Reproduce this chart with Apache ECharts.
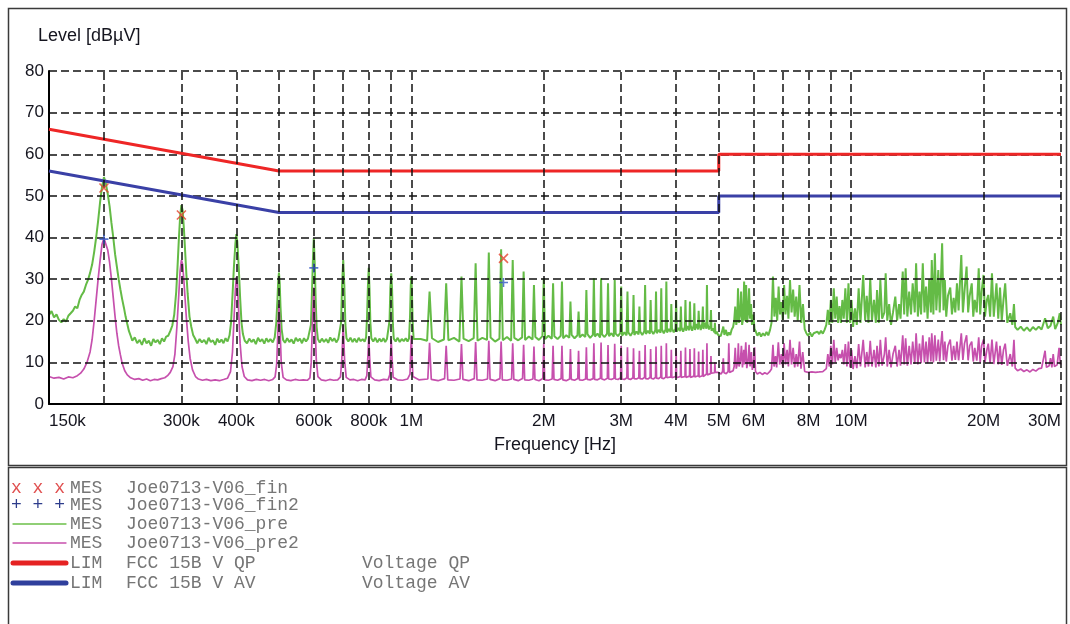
<!DOCTYPE html>
<html>
<head>
<meta charset="utf-8">
<script src="https://cdn.jsdelivr.net/npm/echarts@6/dist/echarts.min.js"></script>
<style>
	html, body { margin: 0; padding: 0; background: #fff; }
	#main { width: 1070px; height: 624px; }
</style>
</head>
<body>
<div id="main"></div>
<script>
// frequency in kHz, level in dBµV

// vertical grid lines and the labelled ones
var gridFreqs = [200, 300, 400, 500, 600, 700, 800, 900, 1000, 2000, 3000, 4000, 5000, 6000, 7000, 8000, 9000, 10000, 20000, 30000];
var tickFreqs = [150, 300, 400, 600, 800, 1000, 2000, 3000, 4000, 5000, 6000, 8000, 10000, 20000, 30000];
var tickText = ["150k", "300k", "400k", "600k", "800k", "1M", "2M", "3M", "4M", "5M", "6M", "8M", "10M", "20M", "30M"];

// limits FCC 15B
var limitQP = [[150, 66], [500, 56], [5000, 56], [5000, 60], [30000, 60]];
var limitAV = [[150, 56], [500, 46], [5000, 46], [5000, 50], [30000, 50]];

// final measurements
var finQP = [[200, 51.9], [300, 45.4], [1620, 35.0]];
var finAV = [[200, 39.6], [600, 32.7], [1620, 29.2]];

// Joe0713-V06_pre (green), 150k - 1M
var preLow = [
	[150, 21.4], [152, 22.3], [154, 20.8], [156, 21.5], [158, 20.2], [160, 19.6], [162, 20.4], [164, 19.8], [166, 21.2], [168, 21.8],
	[170, 22.4], [172, 23.4], [174, 23.0], [176, 25.0], [178, 26.2], [180, 27.0], [182, 28.6], [184, 29.8], [186, 31.5], [188, 33.5],
	[190, 36.5], [192, 40.0], [194, 44.0], [196, 48.5], [198, 52.2], [200, 54.5], [202, 53.0], [204, 50.5], [206, 47.5], [208, 43.5],
	[210, 40.0], [212, 36.0], [214, 33.0], [216, 30.0], [218, 27.5], [220, 25.2], [222, 23.2], [224, 21.0], [226, 19.2], [228, 17.5],
	[230, 16.4], [232, 15.2], [235, 16.0], [238, 14.6], [241, 15.4], [244, 14.2], [247, 15.8], [250, 14.6], [253, 15.2], [256, 14.0],
	[259, 15.6], [262, 14.8], [265, 15.4], [268, 14.4], [271, 15.8], [274, 15.0], [277, 16.2], [280, 16.4], [283, 17.5], [286, 18.8],
	[289, 21.5], [292, 27.0], [294, 33.0], [296, 39.5], [298, 45.0], [300, 47.8], [302, 46.5], [304, 42.0], [306, 36.5], [308, 31.0],
	[310, 26.5], [313, 21.0], [316, 18.5], [319, 16.6], [322, 15.8], [326, 14.6], [330, 15.6], [334, 14.8], [338, 15.4], [342, 14.4],
	[346, 15.9], [350, 14.9], [354, 15.3], [358, 14.2], [362, 15.7], [366, 14.8], [370, 15.5], [374, 14.6], [378, 15.8], [382, 15.0],
	[386, 16.5], [389, 19.5], [392, 26.0], [395, 33.0], [398, 38.5], [400, 40.8], [402, 39.0], [405, 33.0], [408, 25.5], [411, 19.5],
	[414, 16.8], [418, 15.2], [423, 14.6], [428, 15.7], [433, 14.9], [438, 15.5], [443, 14.4], [448, 15.9], [453, 15.0], [458, 15.6],
	[463, 14.5], [468, 15.8], [473, 14.9], [478, 15.6], [484, 14.8], [489, 16.0], [493, 19.5], [496, 25.0], [498, 29.5], [500, 31.6],
	[502, 29.0], [504, 23.5], [507, 18.0], [511, 15.4], [516, 14.7], [522, 15.8], [528, 14.9], [534, 15.5], [540, 14.5], [546, 15.9],
	[552, 15.1], [558, 15.7], [564, 14.6], [570, 15.8], [576, 15.0], [582, 15.7], [587, 15.6], [591, 19.0], [594, 26.0], [597, 34.0],
	[600, 39.8], [603, 33.5], [606, 25.0], [609, 18.5], [613, 15.6], [619, 14.8], [626, 15.7], [633, 14.9], [640, 15.6], [647, 14.7],
	[654, 16.0], [661, 15.1], [668, 15.8], [675, 14.8], [682, 15.6], [688, 15.9], [692, 19.5], [696, 29.0], [700, 34.6], [704, 28.5],
	[708, 19.0], [712, 15.8], [719, 15.0], [727, 15.9], [735, 14.9], [743, 15.7], [751, 14.8], [759, 15.9], [767, 15.1], [775, 15.6],
	[783, 15.0], [789, 16.0], [793, 21.0], [797, 29.0], [800, 32.7], [803, 28.0], [807, 19.5], [811, 15.8], [819, 15.0], [828, 15.9],
	[837, 14.8], [846, 15.7], [855, 15.0], [864, 15.8], [872, 14.9], [880, 15.6], [888, 15.4], [892, 20.0], [896, 28.0], [900, 31.4],
	[904, 27.5], [908, 19.0], [912, 15.7], [921, 15.0], [931, 15.9], [941, 14.9], [951, 15.6], [961, 15.1], [971, 15.8], [980, 15.0],
	[988, 15.8], [993, 21.0], [997, 28.5], [1000, 30.6], [1003, 27.0], [1007, 19.5], [1012, 15.6]
];

// green, 1M - 5M
var preMid = [
	[1050, 15.6],
	[1086, 15.2], [1100, 27.0], [1114, 15.8], [1150, 14.9], [1186, 15.5], [1200, 29.0], [1214, 15.3], [1250, 15.9],
	[1286, 15.0], [1300, 30.6], [1314, 15.7], [1350, 15.1], [1386, 15.8], [1400, 33.8], [1414, 15.2], [1450, 15.9],
	[1486, 15.4], [1500, 36.4], [1514, 16.0], [1550, 15.0], [1586, 15.7], [1600, 37.2], [1614, 15.3], [1650, 16.1],
	[1686, 15.2], [1700, 34.6], [1714, 15.9], [1750, 15.3], [1786, 16.0], [1800, 31.8], [1814, 15.4], [1850, 16.2],
	[1886, 15.5], [1900, 28.6], [1914, 16.1], [1950, 15.4], [1986, 16.3], [2000, 30.2], [2014, 15.6], [2050, 16.4],
	[2086, 15.7], [2100, 29.0], [2114, 16.3], [2150, 15.6], [2186, 16.4], [2200, 29.4], [2214, 15.8], [2250, 16.5],
	[2286, 15.9], [2300, 24.6], [2314, 16.6], [2350, 15.8], [2386, 16.5], [2400, 22.2], [2414, 16.0], [2450, 16.7],
	[2486, 16.1], [2500, 27.4], [2514, 16.8], [2550, 15.9], [2586, 16.6], [2600, 30.2], [2614, 16.2], [2650, 16.9],
	[2686, 16.0], [2700, 30.2], [2714, 16.7], [2750, 16.1], [2786, 16.9], [2800, 29.0], [2814, 16.3], [2850, 17.0],
	[2886, 16.2], [2900, 29.8], [2914, 16.9], [2950, 16.3], [2986, 17.1], [3000, 28.2], [3014, 16.4], [3050, 17.2],
	[3086, 16.5], [3100, 27.0], [3114, 17.2], [3150, 16.4], [3186, 17.3], [3200, 26.2], [3214, 16.6], [3250, 17.4],
	[3286, 16.7], [3300, 23.4], [3314, 17.4], [3350, 16.6], [3386, 17.5], [3400, 28.6], [3414, 16.8], [3450, 17.6],
	[3486, 16.9], [3500, 25.0], [3514, 17.6], [3550, 16.8], [3586, 17.7], [3600, 27.0], [3614, 17.0], [3650, 17.8],
	[3686, 17.1], [3700, 27.8], [3714, 17.9], [3750, 17.0], [3786, 17.9], [3800, 29.4], [3814, 17.2], [3850, 18.0],
	[3886, 17.3], [3900, 24.0], [3914, 18.1], [3950, 17.2], [3986, 18.1], [4000, 25.0], [4014, 17.4], [4050, 18.3],
	[4086, 17.5], [4100, 23.4], [4114, 18.4], [4150, 17.4], [4186, 18.5], [4200, 25.0], [4214, 17.6], [4250, 18.7],
	[4286, 17.7], [4300, 24.6], [4314, 18.9], [4350, 17.6], [4386, 19.0], [4400, 24.2], [4414, 17.8], [4450, 19.2],
	[4486, 17.9], [4500, 22.4], [4514, 19.3], [4550, 17.8], [4586, 19.4], [4600, 23.4], [4614, 18.0], [4650, 19.5],
	[4686, 18.1], [4700, 28.6], [4714, 19.3], [4750, 17.9], [4786, 18.8], [4800, 22.6], [4814, 17.6], [4850, 18.2],
	[4886, 17.2], [4900, 19.5], [4914, 16.8], [4950, 17.4], [4980, 16.6]
];

// green, 5M - 30M
var preHigh = [
	[5010, 17.0], [5050, 16.3], [5090, 17.5], [5120, 18.6], [5150, 16.6], [5190, 17.8], [5230, 16.4], [5270, 17.2], [5310, 16.6], [5350, 17.9],
	[5390, 18.5], [5420, 20.0], [5450, 23.4], [5480, 19.0], [5510, 21.0], [5530, 27.8], [5555, 19.5], [5590, 21.5], [5620, 27.0], [5650, 19.0],
	[5680, 20.5], [5710, 29.4], [5740, 20.0], [5770, 28.6], [5800, 19.5], [5830, 22.0], [5860, 27.8], [5890, 20.5], [5920, 24.0], [5950, 19.0],
	[5990, 21.5], [6030, 18.0], [6070, 17.4], [6120, 16.4], [6180, 17.2], [6240, 16.2], [6300, 17.0], [6360, 16.4], [6420, 17.3], [6480, 16.5],
	[6540, 17.8], [6590, 19.5], [6640, 30.6], [6690, 21.0], [6740, 25.5], [6790, 20.0], [6840, 28.2], [6890, 21.5], [6940, 24.5], [6990, 20.2],
	[7040, 28.6], [7090, 21.5], [7150, 26.0], [7200, 20.5], [7260, 29.8], [7320, 22.0], [7380, 27.5], [7440, 21.0], [7500, 25.8], [7560, 20.0],
	[7630, 28.6], [7700, 19.5], [7770, 24.0], [7840, 18.0], [7910, 17.0], [7980, 16.4], [8060, 17.2], [8140, 16.2], [8220, 17.0], [8300, 16.6],
	[8380, 17.4], [8460, 16.8], [8540, 17.6], [8620, 16.9], [8700, 17.8], [8780, 19.0], [8850, 22.6], [8920, 19.0], [8990, 25.0], [9060, 19.5],
	[9130, 27.8], [9200, 20.5], [9270, 25.8], [9340, 19.5], [9410, 23.5], [9480, 19.5], [9550, 25.0], [9620, 20.5], [9700, 27.8], [9780, 19.5],
	[9860, 29.0], [9940, 19.5], [10020, 25.0], [10100, 18.5], [10200, 23.0], [10300, 19.0], [10400, 27.8], [10500, 19.5], [10650, 31.0], [10760, 20.0],
	[10850, 26.0], [10950, 19.5], [11050, 30.2], [11150, 20.0], [11270, 25.0], [11380, 19.5], [11450, 27.4], [11560, 19.5], [11650, 29.8], [11760, 20.5],
	[11900, 22.0], [11980, 31.4], [12080, 20.0], [12200, 24.0], [12320, 19.0], [12450, 22.0], [12600, 25.8], [12720, 20.0], [12850, 24.0], [12950, 20.5],
	[13100, 31.8], [13200, 21.5], [13300, 32.6], [13420, 21.0], [13550, 27.0], [13680, 21.5], [13800, 29.0], [13950, 22.0], [14050, 33.8], [14180, 21.0],
	[14300, 27.0], [14420, 21.5], [14550, 33.8], [14680, 22.0], [14800, 28.2], [14920, 20.5], [15050, 30.0], [15180, 22.0], [15250, 34.6], [15380, 21.5],
	[15500, 36.2], [15620, 22.5], [15780, 32.2], [15900, 22.0], [16000, 30.0], [16100, 38.6], [16220, 22.5], [16330, 29.8], [16450, 21.0], [16600, 26.0],
	[16800, 28.0], [16950, 21.5], [17100, 25.5], [17250, 22.0], [17400, 29.0], [17550, 22.5], [17800, 35.8], [17950, 22.0], [18100, 27.0], [18300, 33.0],
	[18450, 22.0], [18600, 26.0], [18800, 29.0], [18950, 21.0], [19100, 25.0], [19300, 22.0], [19500, 32.6], [19650, 21.5], [19800, 27.0], [20000, 31.0],
	[20150, 21.0], [20350, 25.0], [20500, 26.2], [20700, 21.0], [20900, 31.4], [21100, 21.0], [21400, 29.0], [21600, 20.5], [21800, 28.0], [22000, 20.0],
	[22200, 25.0], [22400, 29.0], [22650, 19.5], [23000, 21.8], [23250, 19.0], [23450, 24.0], [23600, 18.5], [23900, 17.8], [24300, 18.6], [24700, 17.6],
	[25100, 18.4], [25500, 17.5], [25900, 18.5], [26300, 17.8], [26700, 18.6], [27100, 17.9], [27600, 20.6], [28000, 18.2], [28400, 18.8], [28800, 21.0],
	[29100, 18.0], [29500, 19.5], [29800, 21.8], [30000, 19.0]
];

// Joe0713-V06_pre2 (magenta), 150k - 1M
var pre2Low = [
	[150, 6.6], [154, 6.2], [158, 6.4], [162, 6.0], [166, 6.5], [170, 6.3], [174, 6.8], [177, 7.4], [180, 8.4], [183, 10.0],
	[186, 12.5], [188, 15.5], [190, 20.0], [192, 25.0], [194, 30.0], [196, 34.5], [198, 38.4], [200, 39.8], [202, 39.5], [204, 37.0],
	[206, 34.0], [208, 30.0], [210, 25.5], [212, 21.0], [214, 17.0], [216, 14.0], [218, 11.8], [220, 9.8], [223, 8.0], [226, 7.0],
	[230, 6.3], [235, 5.9], [240, 6.1], [245, 5.7], [250, 6.0], [255, 5.6], [260, 5.9], [265, 5.8], [270, 6.1], [275, 6.3],
	[279, 6.8], [283, 7.6], [287, 9.0], [290, 12.0], [293, 18.5], [296, 26.5], [298, 32.0], [300, 34.6], [302, 33.5], [304, 29.5],
	[306, 25.0], [308, 20.5], [311, 15.0], [314, 11.0], [318, 8.2], [323, 6.6], [328, 6.0], [335, 5.7], [342, 5.9], [350, 5.6],
	[358, 5.8], [366, 5.6], [374, 5.9], [382, 6.2], [388, 7.8], [392, 12.5], [395, 20.0], [398, 27.5], [400, 30.5], [402, 29.0],
	[405, 22.0], [408, 14.5], [412, 9.0], [417, 6.6], [424, 5.8], [434, 5.6], [444, 5.9], [454, 5.7], [464, 5.9], [474, 5.6],
	[484, 5.9], [490, 6.5], [494, 9.5], [497, 17.0], [500, 24.0], [503, 17.5], [506, 10.0], [511, 6.4], [520, 5.8], [532, 5.6],
	[544, 5.9], [556, 5.7], [568, 5.8], [580, 5.7], [588, 6.3], [592, 10.0], [596, 20.0], [600, 28.0], [604, 19.0], [608, 10.5],
	[613, 6.6], [624, 5.8], [638, 5.6], [652, 5.9], [666, 5.7], [680, 5.8], [690, 6.5], [695, 11.0], [700, 19.0], [705, 10.5],
	[711, 6.4], [725, 5.8], [740, 5.9], [755, 5.6], [770, 5.9], [785, 5.8], [792, 6.8], [797, 12.0], [800, 16.0], [804, 11.0],
	[809, 6.5], [825, 5.8], [845, 5.6], [865, 5.9], [885, 5.8], [893, 7.0], [897, 12.0], [900, 15.5], [904, 11.0], [909, 6.4],
	[930, 5.8], [955, 5.7], [980, 6.0], [993, 7.2], [997, 13.0], [1000, 16.5], [1003, 12.0], [1008, 6.6]
];

// magenta, 1M - 5M
var pre2Mid = [
	[1040, 5.8],
	[1090, 6.0], [1100, 14.7], [1110, 5.9], [1150, 5.6], [1190, 6.1], [1200, 14.0], [1210, 5.8], [1250, 5.7],
	[1290, 6.0], [1300, 14.4], [1310, 5.9], [1350, 5.6], [1390, 6.1], [1400, 14.9], [1410, 5.8], [1450, 5.7],
	[1490, 6.0], [1500, 15.2], [1510, 5.9], [1550, 5.6], [1590, 6.1], [1600, 15.0], [1610, 5.8], [1650, 5.7],
	[1690, 6.0], [1700, 14.6], [1710, 5.9], [1750, 5.6], [1790, 6.1], [1800, 14.2], [1810, 5.8], [1850, 5.7],
	[1890, 6.0], [1900, 13.8], [1910, 5.9], [1950, 5.6], [1990, 6.1], [2000, 14.5], [2010, 5.8], [2050, 5.7],
	[2090, 6.0], [2100, 14.0], [2110, 5.9], [2150, 5.7], [2190, 6.1], [2200, 14.0], [2210, 5.8], [2250, 5.6],
	[2290, 6.0], [2300, 13.2], [2310, 5.9], [2350, 5.7], [2390, 6.1], [2400, 12.8], [2410, 5.8], [2450, 5.7],
	[2490, 6.0], [2500, 13.6], [2510, 5.9], [2550, 5.8], [2590, 6.1], [2600, 14.6], [2610, 5.9], [2650, 5.8],
	[2690, 6.2], [2700, 14.8], [2710, 6.0], [2750, 5.8], [2790, 6.2], [2800, 14.2], [2810, 6.0], [2850, 5.9],
	[2890, 6.2], [2900, 14.5], [2910, 6.0], [2950, 5.9], [2990, 6.3], [3000, 14.0], [3010, 6.0], [3050, 5.9],
	[3090, 6.3], [3100, 13.6], [3110, 6.1], [3150, 5.9], [3190, 6.3], [3200, 13.4], [3210, 6.1], [3250, 6.0],
	[3290, 6.3], [3300, 12.8], [3310, 6.1], [3350, 6.0], [3390, 6.4], [3400, 14.2], [3410, 6.1], [3450, 6.0],
	[3490, 6.4], [3500, 13.2], [3510, 6.2], [3550, 6.0], [3590, 6.4], [3600, 13.8], [3610, 6.2], [3650, 6.1],
	[3690, 6.5], [3700, 14.0], [3710, 6.2], [3750, 6.1], [3790, 6.5], [3800, 14.6], [3810, 6.3], [3850, 6.1],
	[3890, 6.5], [3900, 13.0], [3910, 6.3], [3950, 6.2], [3990, 6.6], [4000, 13.4], [4010, 6.3], [4050, 6.2],
	[4090, 6.6], [4100, 12.8], [4110, 6.4], [4150, 6.2], [4190, 6.6], [4200, 13.6], [4210, 6.4], [4250, 6.3],
	[4290, 6.7], [4300, 13.2], [4310, 6.4], [4350, 6.3], [4390, 6.7], [4400, 13.4], [4410, 6.5], [4450, 6.4],
	[4490, 6.8], [4500, 12.6], [4510, 6.5], [4550, 6.4], [4590, 6.8], [4600, 13.0], [4610, 6.6], [4650, 7.0],
	[4690, 7.2], [4700, 14.6], [4710, 7.0], [4750, 7.4], [4790, 7.3], [4800, 11.5], [4810, 7.4], [4850, 7.6],
	[4890, 7.5], [4900, 10.0], [4910, 7.6], [4950, 7.7], [4980, 7.6]
];

// magenta, 5M - 30M
var pre2High = [
	[5010, 7.6], [5060, 7.2], [5100, 7.8], [5120, 11.0], [5140, 7.5], [5200, 7.3], [5250, 7.8], [5270, 14.6], [5290, 7.6], [5340, 7.4],
	[5390, 8.0], [5420, 9.0], [5450, 13.5], [5480, 8.5], [5520, 10.0], [5540, 14.6], [5560, 9.0], [5600, 10.5], [5630, 14.0], [5660, 8.8],
	[5700, 13.0], [5720, 9.5], [5760, 14.8], [5790, 8.6], [5830, 10.5], [5860, 14.2], [5890, 9.0], [5930, 12.5], [5960, 8.2], [6000, 10.0],
	[6030, 13.6], [6060, 7.8], [6120, 7.2], [6200, 7.6], [6280, 7.1], [6360, 7.5], [6440, 7.2], [6520, 7.7], [6590, 8.4], [6640, 14.2],
	[6680, 9.0], [6730, 11.5], [6770, 8.8], [6830, 14.8], [6880, 9.5], [6940, 12.0], [6990, 9.0], [7040, 14.6], [7090, 9.5], [7150, 13.0],
	[7200, 9.0], [7260, 15.4], [7320, 9.5], [7380, 13.5], [7440, 8.8], [7500, 12.0], [7560, 9.0], [7630, 15.0], [7690, 8.5], [7760, 12.5],
	[7840, 7.8], [7910, 7.4], [7980, 7.6], [8060, 7.2], [8140, 7.7], [8220, 7.3], [8300, 7.6], [8380, 7.2], [8460, 7.7], [8540, 7.4],
	[8620, 7.8], [8700, 7.5], [8780, 8.5], [8850, 12.0], [8920, 9.0], [8990, 14.0], [9060, 9.5], [9130, 15.4], [9200, 10.0], [9270, 13.5],
	[9340, 10.5], [9410, 12.0], [9480, 11.0], [9550, 13.0], [9620, 9.5], [9700, 14.4], [9780, 9.0], [9860, 15.0], [9940, 8.8], [10020, 13.0],
	[10100, 8.4], [10200, 11.5], [10300, 8.6], [10400, 14.4], [10500, 9.0], [10650, 15.4], [10760, 8.8], [10850, 12.5], [10950, 9.0], [11050, 15.2],
	[11150, 9.0], [11270, 13.0], [11380, 8.8], [11450, 14.0], [11560, 9.0], [11650, 15.4], [11760, 9.2], [11900, 12.0], [11980, 16.0], [12080, 9.0],
	[12200, 13.0], [12320, 8.8], [12450, 12.0], [12600, 14.0], [12720, 9.0], [12850, 13.0], [12950, 9.2], [13100, 16.5], [13200, 9.5], [13300, 15.8],
	[13420, 9.2], [13550, 14.0], [13680, 9.5], [13800, 15.0], [13950, 9.6], [14050, 17.0], [14180, 9.5], [14300, 14.5], [14420, 9.8], [14550, 16.5],
	[14680, 10.0], [14800, 15.0], [14920, 9.8], [15050, 16.0], [15180, 10.2], [15250, 17.0], [15380, 10.0], [15500, 16.5], [15620, 10.4], [15780, 15.5],
	[15900, 10.2], [16000, 14.5], [16100, 17.5], [16220, 10.5], [16330, 15.0], [16450, 10.2], [16600, 14.0], [16800, 15.5], [16950, 10.4], [17100, 14.0],
	[17250, 10.6], [17400, 15.0], [17550, 10.5], [17800, 17.0], [17950, 10.6], [18100, 14.5], [18300, 16.5], [18450, 10.5], [18600, 14.0], [18800, 15.0],
	[18950, 10.2], [19100, 13.5], [19300, 10.4], [19500, 16.0], [19650, 10.0], [19800, 14.0], [20000, 15.5], [20150, 10.0], [20350, 13.0], [20500, 14.5],
	[20700, 9.8], [20900, 15.5], [21100, 9.6], [21400, 15.0], [21600, 9.5], [21800, 14.0], [22000, 9.4], [22200, 13.0], [22400, 14.5], [22650, 9.2],
	[23000, 12.0], [23250, 9.0], [23450, 15.4], [23600, 8.6], [23900, 8.0], [24300, 8.4], [24700, 7.8], [25100, 8.2], [25500, 7.7], [25900, 8.3],
	[26300, 7.9], [26700, 8.5], [27100, 8.6], [27600, 12.8], [27800, 8.8], [28200, 9.2], [28400, 11.0], [28600, 8.8], [28800, 12.0], [29000, 9.0],
	[29400, 9.4], [29700, 13.5], [29900, 9.5], [30000, 9.8]
];

var preTrace = preLow.concat(preMid, preHigh);
var pre2Trace = pre2Low.concat(pre2Mid, pre2High);

var dash = [8, 4];
var mono = '"Liberation Mono", "DejaVu Sans Mono", monospace';
var sans = '"Liberation Sans", Arial, sans-serif';
var ink = "#15151f";

var myChart = echarts.init(document.getElementById("main"), null, { renderer: "canvas" });

// legend rows under the chart
function legendText(x, y, text, color) {
	return {
		type: "text",
		x: x,
		y: y,
		style: { text: text, fill: color, font: "18px " + mono, verticalAlign: "middle" }
	};
}
function legendLine(y, color, width) {
	return {
		type: "line",
		shape: { x1: 13, y1: y, x2: 66, y2: y },
		style: { stroke: color, lineWidth: width, lineCap: "round" }
	};
}
var textGrey = "#767676";
var legendItems = [
	{ type: "rect", shape: { x: 8.5, y: 8.5, width: 1058, height: 457 }, style: { fill: "none", stroke: "#3a3a3a", lineWidth: 1.5 } },
	{ type: "rect", shape: { x: 8.5, y: 467.5, width: 1058, height: 170 }, style: { fill: "none", stroke: "#3a3a3a", lineWidth: 1.5 } },
	legendText(11, 488, "x x x", "#e05050"),
	legendText(70, 488, "MES", textGrey),
	legendText(126, 488, "Joe0713-V06_fin", textGrey),
	legendText(11, 505, "+ + +", "#2e3d8c"),
	legendText(70, 505, "MES", textGrey),
	legendText(126, 505, "Joe0713-V06_fin2", textGrey),
	legendLine(524, "#6cc04a", 1.3),
	legendText(70, 524, "MES", textGrey),
	legendText(126, 524, "Joe0713-V06_pre", textGrey),
	legendLine(543, "#c750ad", 1.3),
	legendText(70, 543, "MES", textGrey),
	legendText(126, 543, "Joe0713-V06_pre2", textGrey),
	legendLine(563, "#e52222", 5),
	legendText(70, 563, "LIM", textGrey),
	legendText(126, 563, "FCC 15B V QP", textGrey),
	legendText(362, 563, "Voltage QP", textGrey),
	legendLine(583, "#2f3f9c", 5),
	legendText(70, 583, "LIM", textGrey),
	legendText(126, 583, "FCC 15B V AV", textGrey),
	legendText(362, 583, "Voltage AV", textGrey)
];

var option = {
	animation: false,
	backgroundColor: "#fff",
	title: {
		text: "Level [dBµV]",
		left: 33,
		top: 22,
		textStyle: { fontFamily: sans, fontSize: 18, fontWeight: "normal", color: ink }
	},
	grid: { left: 49, top: 71, width: 1012, height: 333 },
	xAxis: {
		type: "log",
		logBase: 10,
		min: 150,
		max: 30000,
		z: 3,
		name: "Frequency [Hz]",
		nameLocation: "middle",
		nameGap: 32,
		nameTextStyle: { fontFamily: sans, fontSize: 18, color: ink },
		axisLine: { show: true, onZero: false, lineStyle: { color: "#000", width: 2 } },
		axisTick: { show: false },
		splitLine: { show: false },
		axisLabel: {
			customValues: tickFreqs,
			margin: 9,
			fontFamily: sans,
			fontSize: 17,
			color: ink,
			alignMinLabel: "left",
			alignMaxLabel: "right",
			formatter: function (v) {
				var i = tickFreqs.indexOf(Math.round(v));
				return i >= 0 ? tickText[i] : "";
			}
		}
	},
	yAxis: {
		type: "value",
		min: 0,
		max: 80,
		interval: 10,
		z: 3,
		axisLine: { show: true, lineStyle: { color: "#000", width: 2 } },
		axisTick: { show: false },
		axisLabel: { margin: 5, fontFamily: sans, fontSize: 17, color: ink },
		splitLine: { show: true, lineStyle: { color: "#111", width: 1.5, type: dash } }
	},
	graphic: { elements: legendItems },
	series: [
		{
			name: "pre",
			type: "line",
			data: preTrace,
			showSymbol: false,
			z: 2,
			lineStyle: { color: "#64bb46", width: 2 }
		},
		{
			name: "pre2",
			type: "line",
			data: pre2Trace,
			showSymbol: false,
			z: 2,
			lineStyle: { color: "#c650ad", width: 1.7 }
		},
		{
			// vertical grid lines
			name: "grid",
			type: "line",
			data: [],
			z: 3,
			silent: true,
			markLine: {
				silent: true,
				symbol: ["none", "none"],
				label: { show: false },
				lineStyle: { color: "#111", width: 1.5, type: dash },
				emphasis: { disabled: true },
				data: gridFreqs.map(function (f) { return { xAxis: f }; })
			}
		},
		{
			name: "QP",
			type: "line",
			data: limitQP,
			showSymbol: false,
			z: 4,
			lineStyle: { color: "#ee2626", width: 3 }
		},
		{
			name: "AV",
			type: "line",
			data: limitAV,
			showSymbol: false,
			z: 4,
			lineStyle: { color: "#3a40a6", width: 3 }
		},
		{
			name: "fin",
			type: "scatter",
			data: finQP,
			z: 5,
			symbol: "path://M0,0L10,10M10,0L0,10",
			symbolSize: 9,
			itemStyle: { color: "rgba(0,0,0,0)", borderColor: "#e5432e", borderWidth: 1.6 }
		},
		{
			name: "fin2",
			type: "scatter",
			data: finAV,
			z: 5,
			symbol: "path://M5,0L5,10M0,5L10,5",
			symbolSize: 9,
			itemStyle: { color: "rgba(0,0,0,0)", borderColor: "#3558c4", borderWidth: 1.6 }
		}
	]
};
myChart.setOption(option);
window.addEventListener("resize", myChart.resize);
</script>
</body>
</html>
